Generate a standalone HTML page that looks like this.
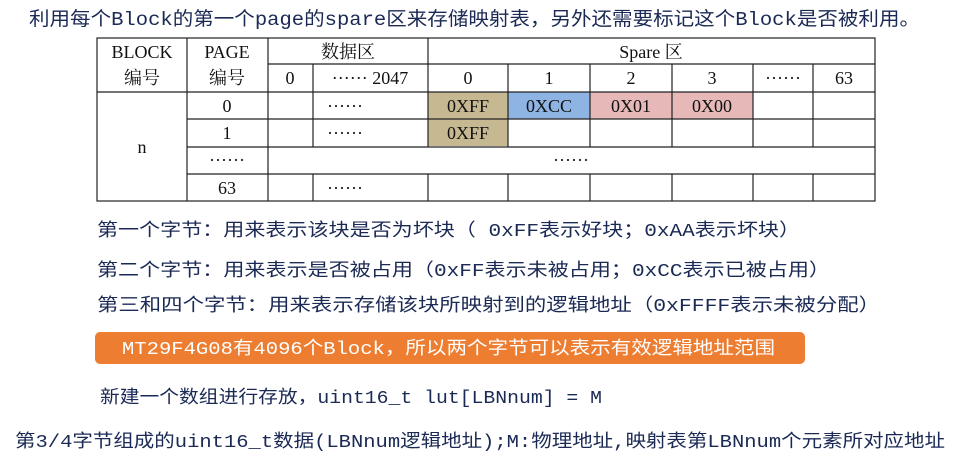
<!DOCTYPE html>
<html><head><meta charset="utf-8"><style>
html,body{margin:0;padding:0;background:#fff;width:975px;height:465px;overflow:hidden}
svg{display:block}
.t{font-family:"Liberation Mono","Noto Sans CJK SC",monospace;fill:#1b2a55}
.s{font-family:"Liberation Serif","Noto Serif CJK SC",serif;font-size:18px;fill:#111;text-anchor:middle}
</style></head><body>
<svg width="975" height="465" viewBox="0 0 975 465">
<text class="t" x="29" y="25" font-size="19" textLength="891" lengthAdjust="spacingAndGlyphs">利用每个Block的第一个page的spare区来存储映射表，另外还需要标记这个Block是否被利用。</text>
<!-- table fills -->
<rect x="428" y="92" width="80" height="54" fill="#c6b992"/>
<rect x="508" y="92" width="82" height="27" fill="#8eb4e3"/>
<rect x="590" y="92" width="163" height="27" fill="#e6b9b8"/>
<g stroke="#222" stroke-width="1.2" fill="none">
<rect x="97" y="38" width="778" height="163"/>
<line x1="268" y1="64" x2="875" y2="64"/>
<line x1="97" y1="92" x2="875" y2="92"/>
<line x1="187" y1="119" x2="875" y2="119"/>
<line x1="187" y1="147" x2="875" y2="147"/>
<line x1="187" y1="174" x2="875" y2="174"/>
<line x1="187" y1="38" x2="187" y2="201"/>
<line x1="268" y1="38" x2="268" y2="201"/>
<line x1="428" y1="38" x2="428" y2="147"/><line x1="428" y1="174" x2="428" y2="201"/>
<line x1="313" y1="64" x2="313" y2="147"/><line x1="313" y1="174" x2="313" y2="201"/>
<g>
<line x1="508" y1="64" x2="508" y2="147"/><line x1="508" y1="174" x2="508" y2="201"/>
<line x1="590" y1="64" x2="590" y2="147"/><line x1="590" y1="174" x2="590" y2="201"/>
<line x1="672" y1="64" x2="672" y2="147"/><line x1="672" y1="174" x2="672" y2="201"/>
<line x1="753" y1="64" x2="753" y2="147"/><line x1="753" y1="174" x2="753" y2="201"/>
<line x1="813" y1="64" x2="813" y2="147"/><line x1="813" y1="174" x2="813" y2="201"/>
</g>
</g>
<g class="s">
<text x="142" y="58">BLOCK</text><text x="142" y="84">编号</text>
<text x="227" y="58">PAGE</text><text x="227" y="84">编号</text>
<text x="348" y="58">数据区</text>
<text x="651" y="58">Spare 区</text>
<text x="290" y="84">0</text><text x="370" y="84">······ 2047</text>
<text x="468" y="84">0</text><text x="549" y="84">1</text><text x="631" y="84">2</text><text x="712" y="84">3</text><text x="783" y="84">······</text><text x="844" y="84">63</text>
<text x="227" y="112">0</text><text x="345" y="112">······</text>
<text x="468" y="112">0XFF</text><text x="549" y="112">0XCC</text><text x="631" y="112">0X01</text><text x="712" y="112">0X00</text>
<text x="227" y="139">1</text><text x="345" y="139">······</text><text x="468" y="139">0XFF</text>
<text x="142" y="153">n</text>
<text x="227" y="166">······</text><text x="571" y="166">······</text>
<text x="227" y="194">63</text><text x="345" y="194">······</text>
</g>
<text class="t" x="97" y="236" font-size="18" textLength="703" lengthAdjust="spacingAndGlyphs">第一个字节：用来表示该块是否为坏块（ 0xFF表示好块；0xAA表示坏块）</text>
<text class="t" x="97" y="276" font-size="18" textLength="733" lengthAdjust="spacingAndGlyphs">第二个字节：用来表示是否被占用（0xFF表示未被占用；0xCC表示已被占用）</text>
<text class="t" x="97" y="311" font-size="18" textLength="783" lengthAdjust="spacingAndGlyphs">第三和四个字节：用来表示存储该块所映射到的逻辑地址（0xFFFF表示未被分配）</text>
<rect x="95" y="332" width="710" height="32" rx="5" fill="#ed7d31"/>
<text x="122" y="354" font-family="Liberation Mono,'Noto Sans CJK SC',monospace" font-size="18" fill="#fff" textLength="653" lengthAdjust="spacingAndGlyphs">MT29F4G08有4096个Block，所以两个字节可以表示有效逻辑地址范围</text>
<text class="t" x="100" y="403" font-size="18" textLength="502" lengthAdjust="spacingAndGlyphs">新建一个数组进行存放，uint16_t lut[LBNnum] = M</text>
<text class="t" x="15" y="447" font-size="18" textLength="930" lengthAdjust="spacingAndGlyphs">第3/4字节组成的uint16_t数据(LBNnum逻辑地址);M:物理地址,映射表第LBNnum个元素所对应地址</text>
</svg>
</body></html>
